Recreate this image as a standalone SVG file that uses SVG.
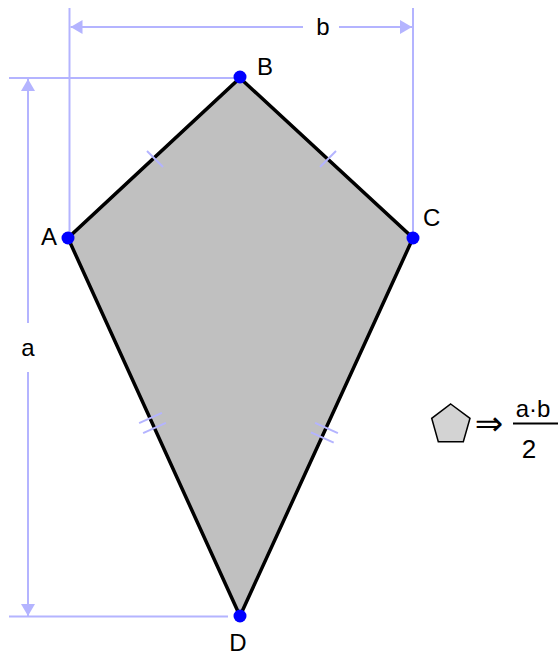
<svg xmlns="http://www.w3.org/2000/svg" width="558" height="656" viewBox="0 0 558 656">
<style>
.dim{stroke:#b4b4ff;stroke-width:2;fill:none}
.tick{stroke:#b4b4ff;stroke-width:2;fill:none}
.lbl{font-family:"Liberation Sans",Arial,sans-serif;font-size:24px;fill:#000}
.pt{fill:#0000ff}
</style>
<defs>
<marker id="ah" viewBox="0 0 12 14" refX="12" refY="7" markerWidth="12" markerHeight="14" markerUnits="userSpaceOnUse" orient="auto-start-reverse">
<path d="M0,0 L12,7 L0,14 Z" fill="#b4b4ff"/>
</marker>
</defs>
<g id="dimensions">
<line class="dim" x1="69.5" y1="8" x2="69.5" y2="232"/>
<line class="dim" x1="413" y1="8" x2="413" y2="232"/>
<line class="dim" x1="9" y1="78" x2="234" y2="78"/>
<line class="dim" x1="9" y1="616.5" x2="228" y2="616.5"/>
<line class="dim" x1="303" y1="27" x2="70.5" y2="27" marker-end="url(#ah)"/>
<line class="dim" x1="339" y1="27" x2="412" y2="27" marker-end="url(#ah)"/>
<line class="dim" x1="28" y1="323" x2="28" y2="79" marker-end="url(#ah)"/>
<line class="dim" x1="28" y1="372" x2="28" y2="616" marker-end="url(#ah)"/>
<text class="lbl" x="323" y="35" text-anchor="middle">b</text>
<text class="lbl" x="28" y="356" text-anchor="middle">a</text>
</g>
<g id="kite">
<polygon points="240,78 413,238 240,616 68,238" fill="#c0c0c0" stroke="#000" stroke-width="3.5" stroke-linejoin="miter"/>
</g>
<g id="ticks">
<line class="tick" x1="147" y1="151" x2="163" y2="167"/>
<line class="tick" x1="320" y1="167" x2="336" y2="151"/>
<line class="tick" x1="139.1" y1="423.2" x2="161.9" y2="412.8"/>
<line class="tick" x1="143.1" y1="433.2" x2="165.9" y2="422.8"/>
<line class="tick" x1="315.1" y1="422.8" x2="337.9" y2="433.2"/>
<line class="tick" x1="310.9" y1="432.3" x2="333.7" y2="442.7"/>
</g>
<g id="A"><circle class="pt" cx="68" cy="238" r="6.5"/><text class="lbl" x="41" y="245">A</text></g>
<g id="B"><circle class="pt" cx="240" cy="77" r="6.5"/><text class="lbl" x="257" y="75">B</text></g>
<g id="C"><circle class="pt" cx="413" cy="238" r="6.5"/><text class="lbl" x="423" y="226">C</text></g>
<g id="D"><circle class="pt" cx="240" cy="616" r="6.5"/><text class="lbl" x="238" y="651" text-anchor="middle">D</text></g>
<g id="formula">
<polygon points="450.7,404 470,418.3 463.3,441.7 438.3,441.7 431.7,418.3" fill="#d3d3d3" stroke="#000" stroke-width="1.5"/>
<text x="489" y="435" text-anchor="middle" style="font-family:'DejaVu Sans',sans-serif;font-size:34px">⇒</text>
<text class="lbl" x="533" y="417" text-anchor="middle">a·b</text>
<line x1="513" y1="423.5" x2="558" y2="423.5" stroke="#000" stroke-width="2"/>
<text class="lbl" x="529" y="458" text-anchor="middle" style="font-size:26px">2</text>
</g>
</svg>
